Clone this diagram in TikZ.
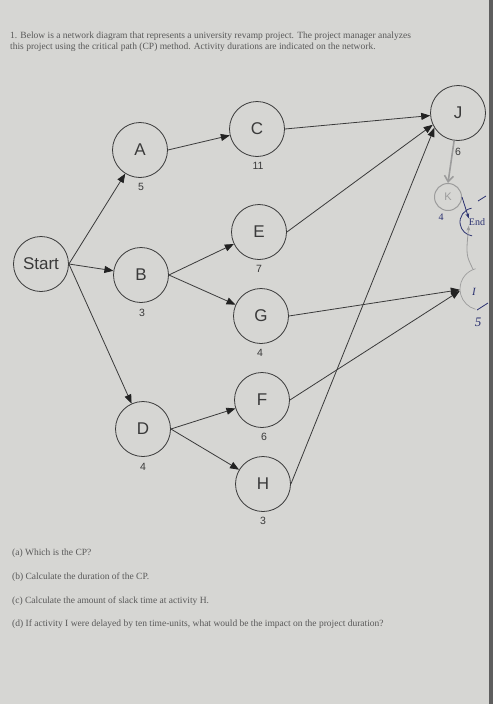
\documentclass[tikz,border=0pt]{standalone}
\usepackage{fontspec}
\setmainfont{Liberation Serif}
\setsansfont{Liberation Sans}
\usetikzlibrary{arrows.meta}
\definecolor{paper}{HTML}{D6D6D3}
\definecolor{ink}{HTML}{3A3A3A}
\definecolor{tip}{HTML}{222222}
\definecolor{txt}{HTML}{595959}
\definecolor{pen}{HTML}{2B3170}
\definecolor{pencil}{HTML}{9C9C9C}
\definecolor{edge}{HTML}{5E5E5E}
\begin{document}
\begin{tikzpicture}[x=1pt,y=-1pt,
 act/.style={circle,draw=ink,line width=0.8pt,minimum size=55pt,inner sep=0pt,
   font=\sffamily\fontsize{17}{17}\selectfont,text=ink},
 dur/.style={font=\sffamily\fontsize{10.5}{10.5}\selectfont,text=ink,inner sep=0pt},
 arr/.style={draw=ink,line width=0.8pt,-{Triangle[length=9pt,width=7pt,color=tip]}},
 qtext/.style={anchor=west,font=\fontsize{9.5}{9.5}\selectfont,text=txt,inner sep=0pt},
 hand/.style={text=pen,font=\fontsize{10}{10}\selectfont,inner sep=0pt},
 penline/.style={draw=pen,line width=0.8pt},
 pencilline/.style={draw=pencil,line width=1.6pt},
]
\fill[paper] (0,0) rectangle (493,704);
\fill[edge] (489,0) rectangle (493,704);
\useasboundingbox (0,0) rectangle (493,704);

% header text
\node[qtext] (t1) at (10,36) {1. Below is a network diagram that represents a university revamp project. The project manager analyzes};
\node[qtext] (t2) at (10,47) {this project using the critical path (CP) method. Activity durations are indicated on the network.};

% activity nodes
\node[act] (start) at (41,264) {Start};
\node[act] (a) at (140,150) {A};
\node[act] (b) at (141,275) {B};
\node[act] (d) at (143,429) {D};
\node[act] (c) at (257,129) {C};
\node[act] (e) at (259,232) {E};
\node[act] (g) at (261,316) {G};
\node[act] (f) at (262,400) {F};
\node[act] (h) at (263,484) {H};
\node[act] (j) at (458,113) {J};

% durations
\node[dur] (da) at (141,187) {5};
\node[dur] (db) at (142,313) {3};
\node[dur] (dd) at (143,467) {4};
\node[dur] (dc) at (258,166) {11};
\node[dur] (de) at (259,269) {7};
\node[dur] (dg) at (260,353) {4};
\node[dur] (df) at (264,437) {6};
\node[dur] (dh) at (263,521) {3};
\node[dur] (dj) at (458,152) {6};

% handwritten nodes
\node[circle,draw=pencil,line width=1pt,minimum size=27pt,inner sep=0pt,
      text=pencil,font=\sffamily\fontsize{11}{11}\selectfont] (k) at (448,197) {K};
\node[hand] (dk) at (441,217) {4};
\node[hand] (end) at (477,222) {End};
\node[circle,minimum size=42pt,inner sep=0pt] (i) at (481,289) {};
\node[hand,font=\itshape\fontsize{11}{11}\selectfont] (ilab) at (474,292) {I};
\node[hand,font=\itshape\fontsize{13}{13}\selectfont] (di) at (478,322) {5};

% printed connectors
\draw[arr] (start.east) -- (a);
\draw[arr] (start.east) -- (b);
\draw[arr] (start.east) -- (d);
\draw[arr] (a.east) -- (c);
\draw[arr] (b.east) -- (e);
\draw[arr] (b.east) -- (g);
\draw[arr] (d.east) -- (f);
\draw[arr] (d.east) -- (h);
\draw[arr] (c.east) -- (j);
\draw[arr] (e.east) -- (j.205);
\draw[arr] (h.east) -- (j.212);
\draw[arr] (g.east) -- (i.182);
\draw[arr] (f.east) -- (i.185);

% handwritten marks
\draw[pencilline,-{Straight Barb[length=6pt,width=9pt]}] (j.262) .. controls (451,160) .. (k.north);
\draw[penline] (474,222) ++(-100:14) arc[start angle=-100,end angle=-262,radius=14];
\draw[penline,-{Stealth[length=5pt]}] (k.east) -- (end.north west);
\draw[penline] (478,201) -- (486,196);
\draw[pencil,line width=0.8pt,-{Stealth[length=5pt,fill=pen]}] (i.112) .. controls (466,255) .. (end.south west);
\draw[pencil,line width=0.7pt] (481,289) ++(-105:21) arc[start angle=-105,end angle=-255,radius=21];
\draw[penline] (477,310) -- (488,303);

% questions
\node[qtext] (qa) at (12,553) {(a) Which is the CP?};
\node[qtext] (qb) at (12,577) {(b) Calculate the duration of the CP.};
\node[qtext] (qc) at (12,601) {(c) Calculate the amount of slack time at activity H.};
\node[qtext] (qd) at (12,624) {(d) If activity I were delayed by ten time-units, what would be the impact on the project duration?};
\end{tikzpicture}
\end{document}
